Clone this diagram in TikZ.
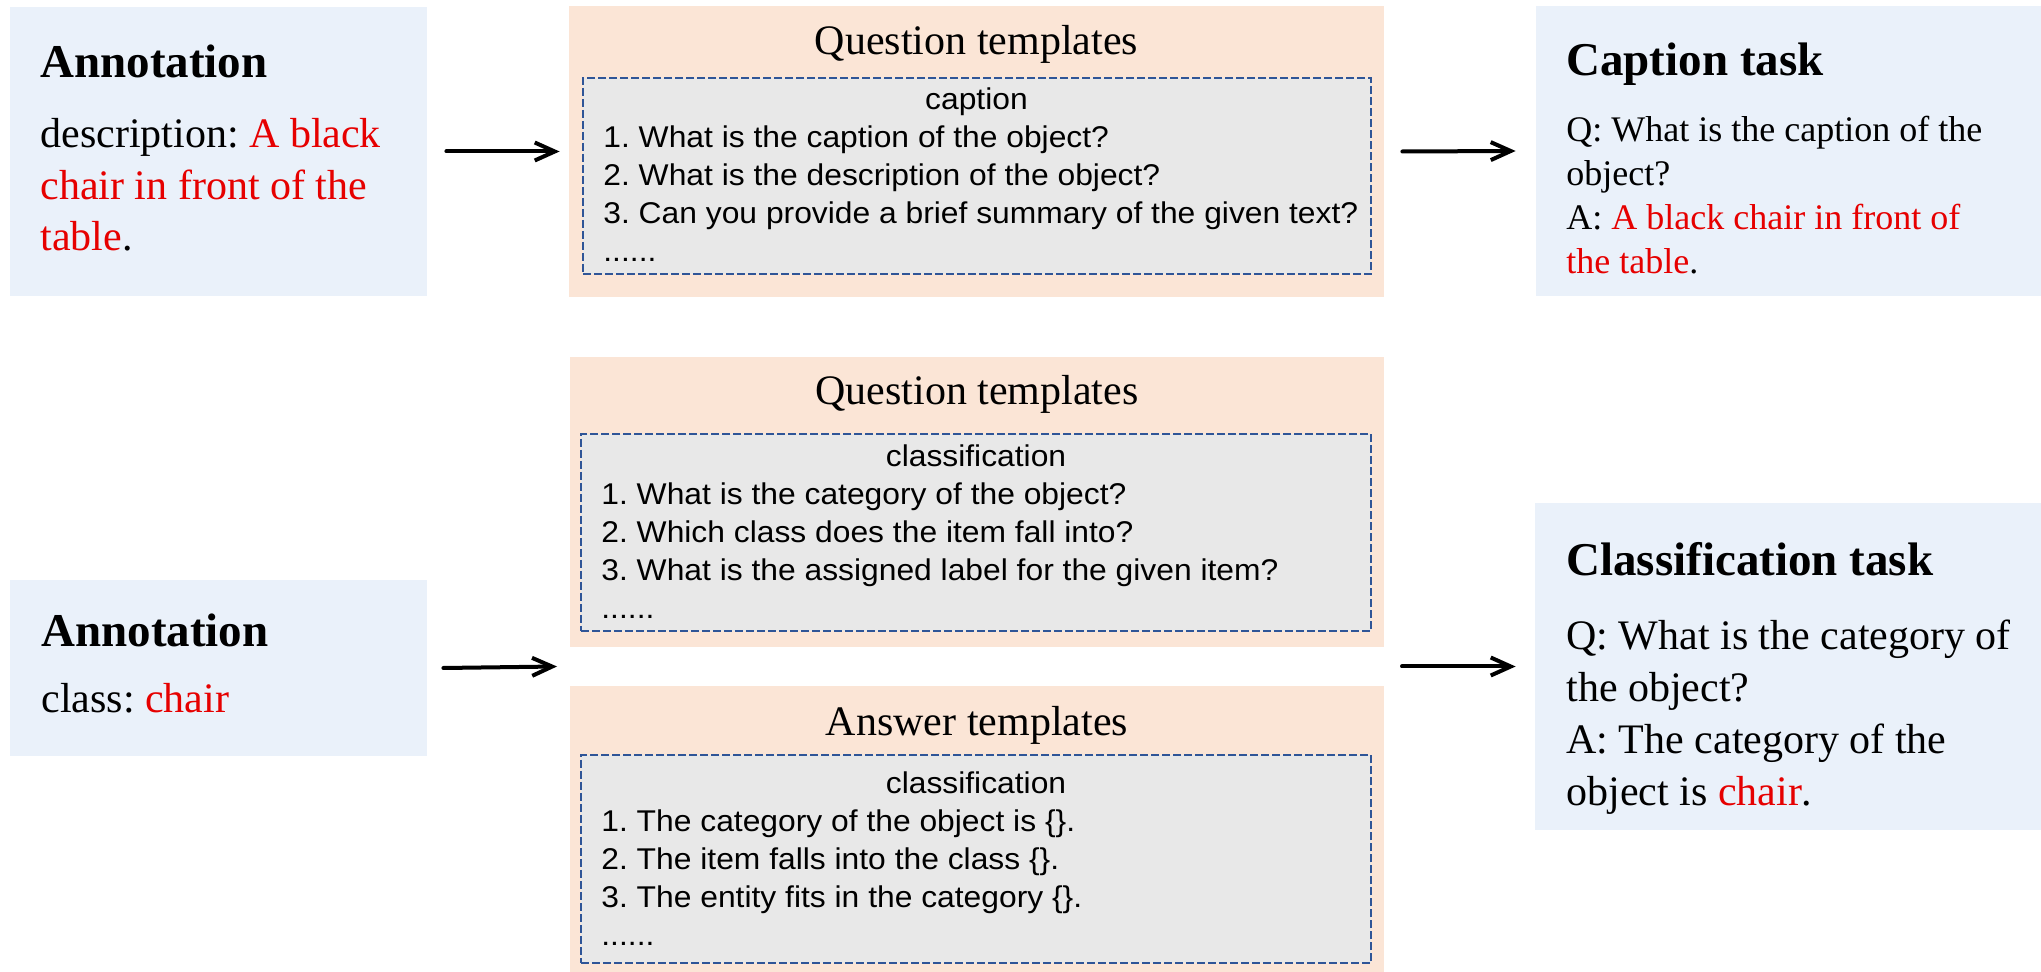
\documentclass[tikz,border=0pt]{standalone}
\usepackage{fontspec}
\setmainfont{Liberation Serif}
\newfontfamily\tplfont[FakeStretch=1.06]{Liberation Sans}
\usetikzlibrary{arrows.meta,fit}
\definecolor{boxblue}{RGB}{234,241,250}
\definecolor{boxpeach}{RGB}{251,229,214}
\definecolor{boxgray}{RGB}{232,232,232}
\definecolor{dashblue}{RGB}{47,85,151}
\definecolor{hlred}{RGB}{230,0,0}
\newcommand{\hl}[1]{\textcolor{hlred}{#1}}
\newcommand{\vlines}[2]{\vtop{\baselineskip=#1\relax\lineskiplimit=-50pt\halign{##\hfil\cr#2\crcr}}}
\frenchspacing
\begin{document}
\begin{tikzpicture}[x=0.5pt,y=-0.5pt,
  bluebox/.style={fill=boxblue,inner sep=0pt,draw=none},
  peachbox/.style={fill=boxpeach,inner sep=0pt,draw=none},
  tplbox/.style={fill=boxgray,draw=dashblue,line width=1.25pt,dash pattern=on 4pt off 1.5pt,inner sep=0pt},
  txt/.style={inner sep=0pt,anchor=base west},
  head/.style={txt,font=\fontsize{23.5}{28}\selectfont\bfseries},
  body/.style={txt,font=\fontsize{21}{25.75}\selectfont},
  smallbody/.style={txt,font=\fontsize{18}{22}\selectfont},
  tpltitle/.style={inner sep=0pt,anchor=base,font=\fontsize{21}{25}\selectfont},
  tplhead/.style={inner sep=0pt,anchor=base,font=\tplfont\fontsize{15}{19}\selectfont},
  tplitem/.style={txt,font=\tplfont\fontsize{15}{19}\selectfont},
  arr/.style={-{Straight Barb[length=10pt,width=9pt]},line width=2pt,line cap=round}
]
\useasboundingbox (0,0) rectangle (2041,972);
\frenchspacing

% top row
\node[bluebox,fit={(10,7)(427,296)}] (a1) {};
\node[head] (a1h) at (40,78) {Annotation};
\node[body] (a1t) at (40,148) {\vlines{25.75pt}{description: \hl{A black}\cr\hl{chair in front of the}\cr\hl{table}.}};

\node[peachbox,fit={(569,6)(1384,297)}] (q1) {};
\node[tpltitle] (q1t) at (976.5,55) {Question templates};
\node[tplbox,fit={(583,78)(1371,274)}] (q1d) {};
\node[tplhead] (q1h) at (976.5,110) {caption};
\node[tplitem] (q1i) at (603,147.5) {\vlines{19pt}{1. What is the caption of the object?\cr 2. What is the description of the object?\cr 3. Can you provide a brief summary of the given text?\cr ......}};

\node[bluebox,fit={(1536,6)(2041,296)}] (c1) {};
\node[head] (c1h) at (1566,76) {Caption task};
\node[smallbody] (c1t) at (1566,142) {\vlines{22pt}{Q: What is the caption of the\cr object?\cr A: \hl{A black chair in front of}\cr \hl{the table}.}};

% bottom row
\node[bluebox,fit={(10,580)(427,756)}] (a2) {};
\node[head] (a2h) at (41,647) {Annotation};
\node[body] (a2t) at (41,713) {class: \hl{chair}};

\node[peachbox,fit={(570,357)(1384,647)}] (q2) {};
\node[tpltitle] (q2t) at (977,405) {Question templates};
\node[tplbox,fit={(581,434)(1371,631)}] (q2d) {};
\node[tplhead] (q2h) at (976,467) {classification};
\node[tplitem] (q2i) at (601,504.5) {\vlines{19pt}{1. What is the category of the object?\cr 2. Which class does the item fall into?\cr 3. What is the assigned label for the given item?\cr ......}};

\node[peachbox,fit={(570,686)(1384,972)}] (an) {};
\node[tpltitle] (ant) at (977,735) {Answer templates};
\node[tplbox,fit={(581,755)(1371,963)}] (ansd) {};
\node[tplhead] (anh) at (976,793) {classification};
\node[tplitem] (ani) at (601,831) {\vlines{19pt}{1. The category of the object is \{\}.\cr 2. The item falls into the class \{\}.\cr 3. The entity fits in the category \{\}.\cr ......}};

\node[bluebox,fit={(1535,503)(2041,830)}] (c2) {};
\node[head] (c2h) at (1566,576) {Classification task};
\node[body] (c2t) at (1566,650) {\vlines{26pt}{Q: What is the category of\cr the object?\cr A: The category of the\cr object is \hl{chair}.}};

\coordinate (midw) at (570,666.5);
\coordinate (mide) at (1384,666.5);

% connectors
\draw[arr] ([xshift=9.5pt]a1.east) -- ([xshift=-4.5pt]q1.west);
\draw[arr] ([xshift=9pt]q1.east) -- ([xshift=-10pt]c1.west);
\draw[arr] ([xshift=8pt]a2.east) -- ([xshift=-6.5pt]midw);
\draw[arr] ([xshift=9pt]mide) -- ([xshift=-9.5pt]c2.west);
\end{tikzpicture}
\end{document}
